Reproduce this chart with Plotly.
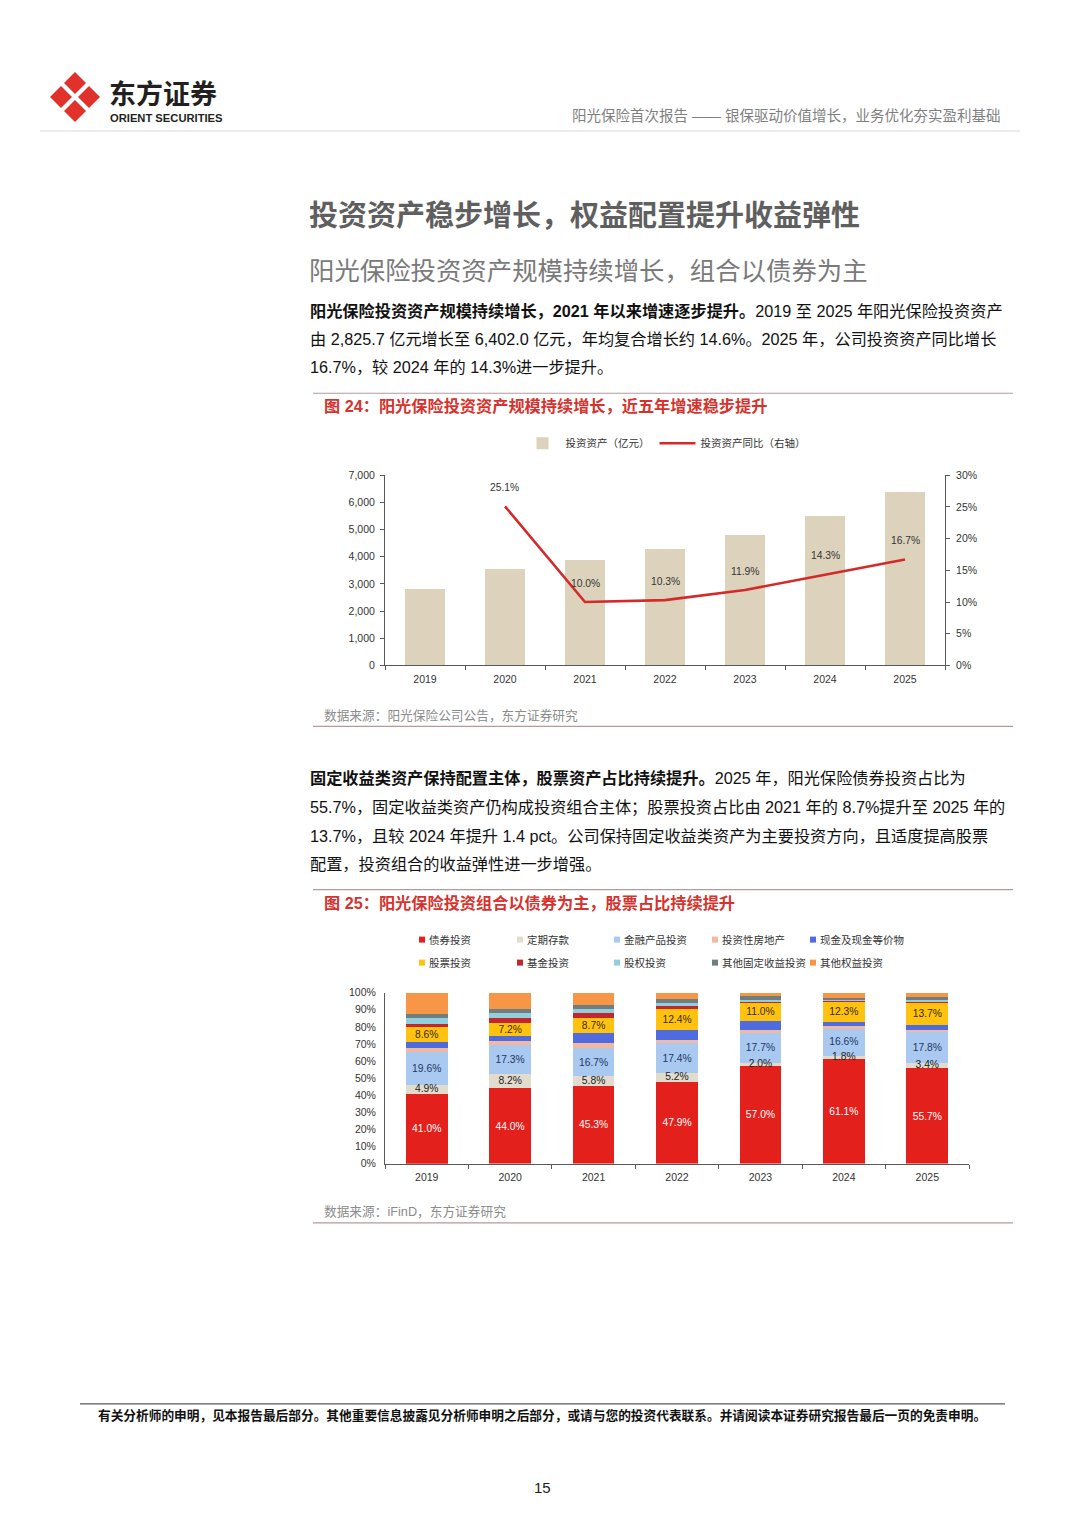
import plotly.graph_objects as go

W, H = 1080, 1527
def px(x): return x / W
def py(y):
    # small correction for the capture's vertical mapping
    return 1 - ((y - 6) / 0.9915) / H

CJK = "Liberation Sans, Noto Sans CJK SC, sans-serif"

# ---------------- data ----------------
years = ["2019", "2020", "2021", "2022", "2023", "2024", "2025"]
invest_assets = [2825.7, 3535.0, 3888.6, 4289.1, 4799.5, 5485.9, 6402.0]
invest_yoy = [None, 25.1, 10.0, 10.3, 11.9, 14.3, 16.7]

alloc_names = ["债券投资", "定期存款", "金融产品投资", "投资性房地产", "现金及现金等价物",
               "股票投资", "基金投资", "股权投资", "其他固定收益投资", "其他权益投资"]
bond = [41.0, 44.0, 45.3, 47.9, 57.0, 61.1, 55.7]
deposit = [4.9, 8.2, 5.8, 5.2, 2.0, 1.8, 3.4]
fin_product = [19.6, 17.3, 16.7, 17.4, 17.7, 16.6, 17.8]
real_estate = [2.3, 2.5, 2.7, 2.0, 1.7, 0.9, 1.4]
cash = [3.5, 2.9, 6.2, 5.8, 5.0, 2.3, 2.6]
stock = [8.6, 7.2, 8.7, 12.4, 11.0, 12.3, 13.7]
fund = [2.0, 2.9, 2.9, 1.2, 0.8, 0.4, 0.6]
equity_inv = [3.1, 3.3, 2.0, 2.3, 0.5, 0.3, 0.5]
other_fixed = [2.3, 2.3, 2.3, 2.3, 2.3, 1.4, 1.5]
other_equity = [12.7, 9.4, 7.4, 3.5, 2.0, 2.9, 2.8]

alloc_series = [bond, deposit, fin_product, real_estate, cash, stock, fund,
                equity_inv, other_fixed, other_equity]
alloc_colors = ["#E3201B", "#E2DCCE", "#A9C9F0", "#F2B9A2", "#4E6CE0",
                "#FFC20E", "#C4262C", "#93CEDD", "#6F7F80", "#F79646"]
bar_label_colors = {0: "#FFFFFF", 2: "#1F3864", 5: "#3A2C00"}

fig = go.Figure()

# ---------------- chart 1 ----------------
fig.add_trace(go.Bar(
    x=years, y=invest_assets, name="投资资产（亿元）",
    marker=dict(color="#DDD3BC", line=dict(width=0)), width=0.5,
    xaxis="x", yaxis="y", legend="legend"))
yoy_frac = [v / 100 if v is not None else None for v in invest_yoy]
fig.add_trace(go.Scatter(
    x=years, y=yoy_frac, name="投资资产同比（右轴）", mode="lines",
    line=dict(color="#D42A2A", width=2.6),
    xaxis="x", yaxis="y2", legend="legend"))

# ---------------- chart 2 ----------------
for i, (name, vals, col) in enumerate(zip(alloc_names, alloc_series, alloc_colors)):
    kw = {}
    if i in bar_label_colors:
        kw = dict(text=[f"{v:.1f}%" for v in vals], textposition="inside",
                  insidetextanchor="middle", constraintext="none",
                  textfont=dict(size=10.3, color=bar_label_colors[i], family=CJK),
                  texttemplate="%{text}")
    fig.add_trace(go.Bar(
        x=years, y=vals, name=name, marker=dict(color=col, line=dict(width=0)),
        width=0.5, xaxis="x2", yaxis="y3", showlegend=False, **kw))

# deposit labels drawn on top of the stack
fig.add_trace(go.Scatter(
    x=years, y=[b + d / 2 for b, d in zip(bond, deposit)], mode="text",
    text=[f"{v:.1f}%" for v in deposit], textposition="middle center",
    textfont=dict(size=10.3, color="#222222", family=CJK),
    xaxis="x2", yaxis="y3", showlegend=False, hoverinfo="skip", cliponaxis=False))

axis_font = dict(size=10.5, color="#333333", family=CJK)
fig.update_layout(
    width=W, height=H, margin=dict(l=0, r=0, t=0, b=0),
    paper_bgcolor="white", plot_bgcolor="white",
    barmode="stack", showlegend=True,
    font=dict(family=CJK, color="#333333"),
    xaxis=dict(domain=[px(385), px(945)], anchor="y", type="category",
               range=[-0.5, len(years) - 0.5],
               showline=True, linecolor="#595959", linewidth=1,
               ticks="outside", ticklen=4, tickcolor="#595959", tickson="boundaries",
               ticklabelstandoff=4, tickfont=axis_font, showgrid=False),
    yaxis=dict(domain=[py(665), py(475)], anchor="x", range=[0, 7000], dtick=1000,
               tickformat=",", showline=True, linecolor="#595959", linewidth=1,
               ticks="outside", ticklen=4, tickcolor="#595959", ticklabelstandoff=3,
               tickfont=axis_font, showgrid=False, zeroline=False),
    yaxis2=dict(overlaying="y", side="right", anchor="x", range=[0, 0.30], dtick=0.05,
                tickformat=".0%", showline=True, linecolor="#595959", linewidth=1,
                ticks="outside", ticklen=4, tickcolor="#595959", ticklabelstandoff=4,
                tickfont=axis_font, showgrid=False, zeroline=False),
    xaxis2=dict(domain=[px(385), px(969)], anchor="y3", type="category",
                range=[-0.5, len(years) - 0.5],
                showline=True, linecolor="#595959", linewidth=1,
                ticks="outside", ticklen=4, tickcolor="#595959", tickson="boundaries",
                ticklabelstandoff=4, tickfont=axis_font, showgrid=False),
    yaxis3=dict(domain=[py(1163), py(992)], anchor="x2", range=[0, 100], dtick=10,
                ticksuffix="%", showline=True, linecolor="#595959", linewidth=1,
                ticks="", ticklabelstandoff=6, tickfont=axis_font, showgrid=False, zeroline=False),
    legend=dict(orientation="h", x=px(665), xanchor="center", y=py(443), yanchor="middle",
                traceorder="normal",
                font=dict(size=10.5, color="#333333", family=CJK), bgcolor="rgba(0,0,0,0)",
                itemwidth=36),
)

# ---------------- page furniture ----------------
shapes = []
ann = []

def text(x, y, s, size, color="#333333", anchor="left", bold=False, family=CJK):
    ann.append(dict(x=px(x), y=py(y), xref="paper", yref="paper", text=(f"<b>{s}</b>" if bold else s),
                    showarrow=False, xanchor=anchor, yanchor="middle",
                    font=dict(size=size, color=color, family=family)))

def hline(x0, x1, y, color, w=1):
    shapes.append(dict(type="line", xref="paper", yref="paper", x0=px(x0), x1=px(x1),
                       y0=py(y), y1=py(y), line=dict(color=color, width=w)))

# chart 1 line labels (anchored to data points; x given as category index)
for idx, v in enumerate(invest_yoy):
    if v is None:
        continue
    ann.append(dict(x=idx, y=v / 100, xref="x", yref="y2", text=f"{v:.1f}%", showarrow=False,
                    yshift=19, font=dict(size=10.3, color="#333333", family=CJK)))

# chart 2 legend (two rows of five)
leg_cols = [422, 520, 617, 715, 813]
leg_rows = [939, 962]
for i, (name, col) in enumerate(zip(alloc_names, alloc_colors)):
    lx = leg_cols[i % 5]
    ly = leg_rows[i // 5]
    shapes.append(dict(type="rect", xref="paper", yref="paper",
                       x0=px(lx - 3), x1=px(lx + 3), y0=py(ly + 3), y1=py(ly - 3),
                       fillcolor=col, line=dict(width=0)))
    text(lx + 5, ly, name, 10.5, "#333333")

# logo: four red diamonds
cx, cy = 75, 97
for dx, dy in [(0, -14), (14, 0), (0, 14), (-14, 0)]:
    ccx, ccy = cx + dx, cy + dy
    r = 11
    pts = [(ccx, ccy - r), (ccx + r, ccy), (ccx, ccy + r), (ccx - r, ccy)]
    path = "M " + " L ".join(f"{px(a):.5f},{py(b):.5f}" for a, b in pts) + " Z"
    shapes.append(dict(type="path", xref="paper", yref="paper", path=path,
                       fillcolor="#E0312B", line=dict(width=0)))

text(107, 92, "东方证券", 27, "#231F20", bold=True, family="Noto Sans CJK SC")
text(108, 118, "ORIENT SECURITIES", 11.2, "#231F20", bold=True, family="Liberation Sans")
text(1003, 116, "阳光保险首次报告 —— 银保驱动价值增长，业务优化夯实盈利基础", 14.5, "#7F7F7F", anchor="right")
hline(40, 1020, 131, "#E6E6E6", 1.5)

text(307, 216, "投资资产稳步增长，权益配置提升收益弹性", 29, "#5F5F5F", bold=True)
text(307, 271, "阳光保险投资资产规模持续增长，组合以债券为主", 25.4, "#7A7A7A")

P = 16.2
text(308, 311, "<b>阳光保险投资资产规模持续增长，2021 年以来增速逐步提升。</b>2019 至 2025 年阳光保险投资资产", P, "#111111")
text(308, 339, "由 2,825.7 亿元增长至 6,402.0 亿元，年均复合增长约 14.6%。2025 年，公司投资资产同比增长", P, "#111111")
text(308, 367, "16.7%，较 2024 年的 14.3%进一步提升。", P, "#111111")

hline(313, 1013, 393, "#B49A9A", 1.2)
text(322, 406, "图 24：阳光保险投资资产规模持续增长，近五年增速稳步提升", 16.2, "#D7322D", bold=True)
text(322, 715, "数据来源：阳光保险公司公告，东方证券研究", 12.7, "#8C8C8C")
hline(313, 1013, 726, "#B49A9A", 1.2)

text(308, 778, "<b>固定收益类资产保持配置主体，股票资产占比持续提升。</b>2025 年，阳光保险债券投资占比为", P, "#111111")
text(308, 807, "55.7%，固定收益类资产仍构成投资组合主体；股票投资占比由 2021 年的 8.7%提升至 2025 年的", P, "#111111")
text(308, 835, "13.7%，且较 2024 年提升 1.4 pct。公司保持固定收益类资产为主要投资方向，且适度提高股票", P, "#111111")
text(308, 863, "配置，投资组合的收益弹性进一步增强。", P, "#111111")

hline(313, 1013, 889, "#B49A9A", 1.2)
text(322, 902, "图 25：阳光保险投资组合以债券为主，股票占比持续提升", 16.2, "#D7322D", bold=True)
text(322, 1211, "数据来源：iFinD，东方证券研究", 12.7, "#8C8C8C")
hline(313, 1013, 1222, "#B49A9A", 1.2)

hline(80, 1005, 1403, "#595959", 1.2)
text(96, 1415, "有关分析师的申明，见本报告最后部分。其他重要信息披露见分析师申明之后部分，或请与您的投资代表联系。并请阅读本证券研究报告最后一页的免责申明。",
     12.7, "#111111", bold=True)
text(542, 1487, "15", 15, "#222222", anchor="center")

fig.update_layout(shapes=shapes, annotations=ann)
fig.write_html(
    "out.html", config={"displayModeBar": False},
    post_script=("var s=document.createElement('style');"
                 "s.textContent='html,body{margin:0;padding:0;overflow:hidden;height:1527px;}';"
                 "document.head.appendChild(s);"))
